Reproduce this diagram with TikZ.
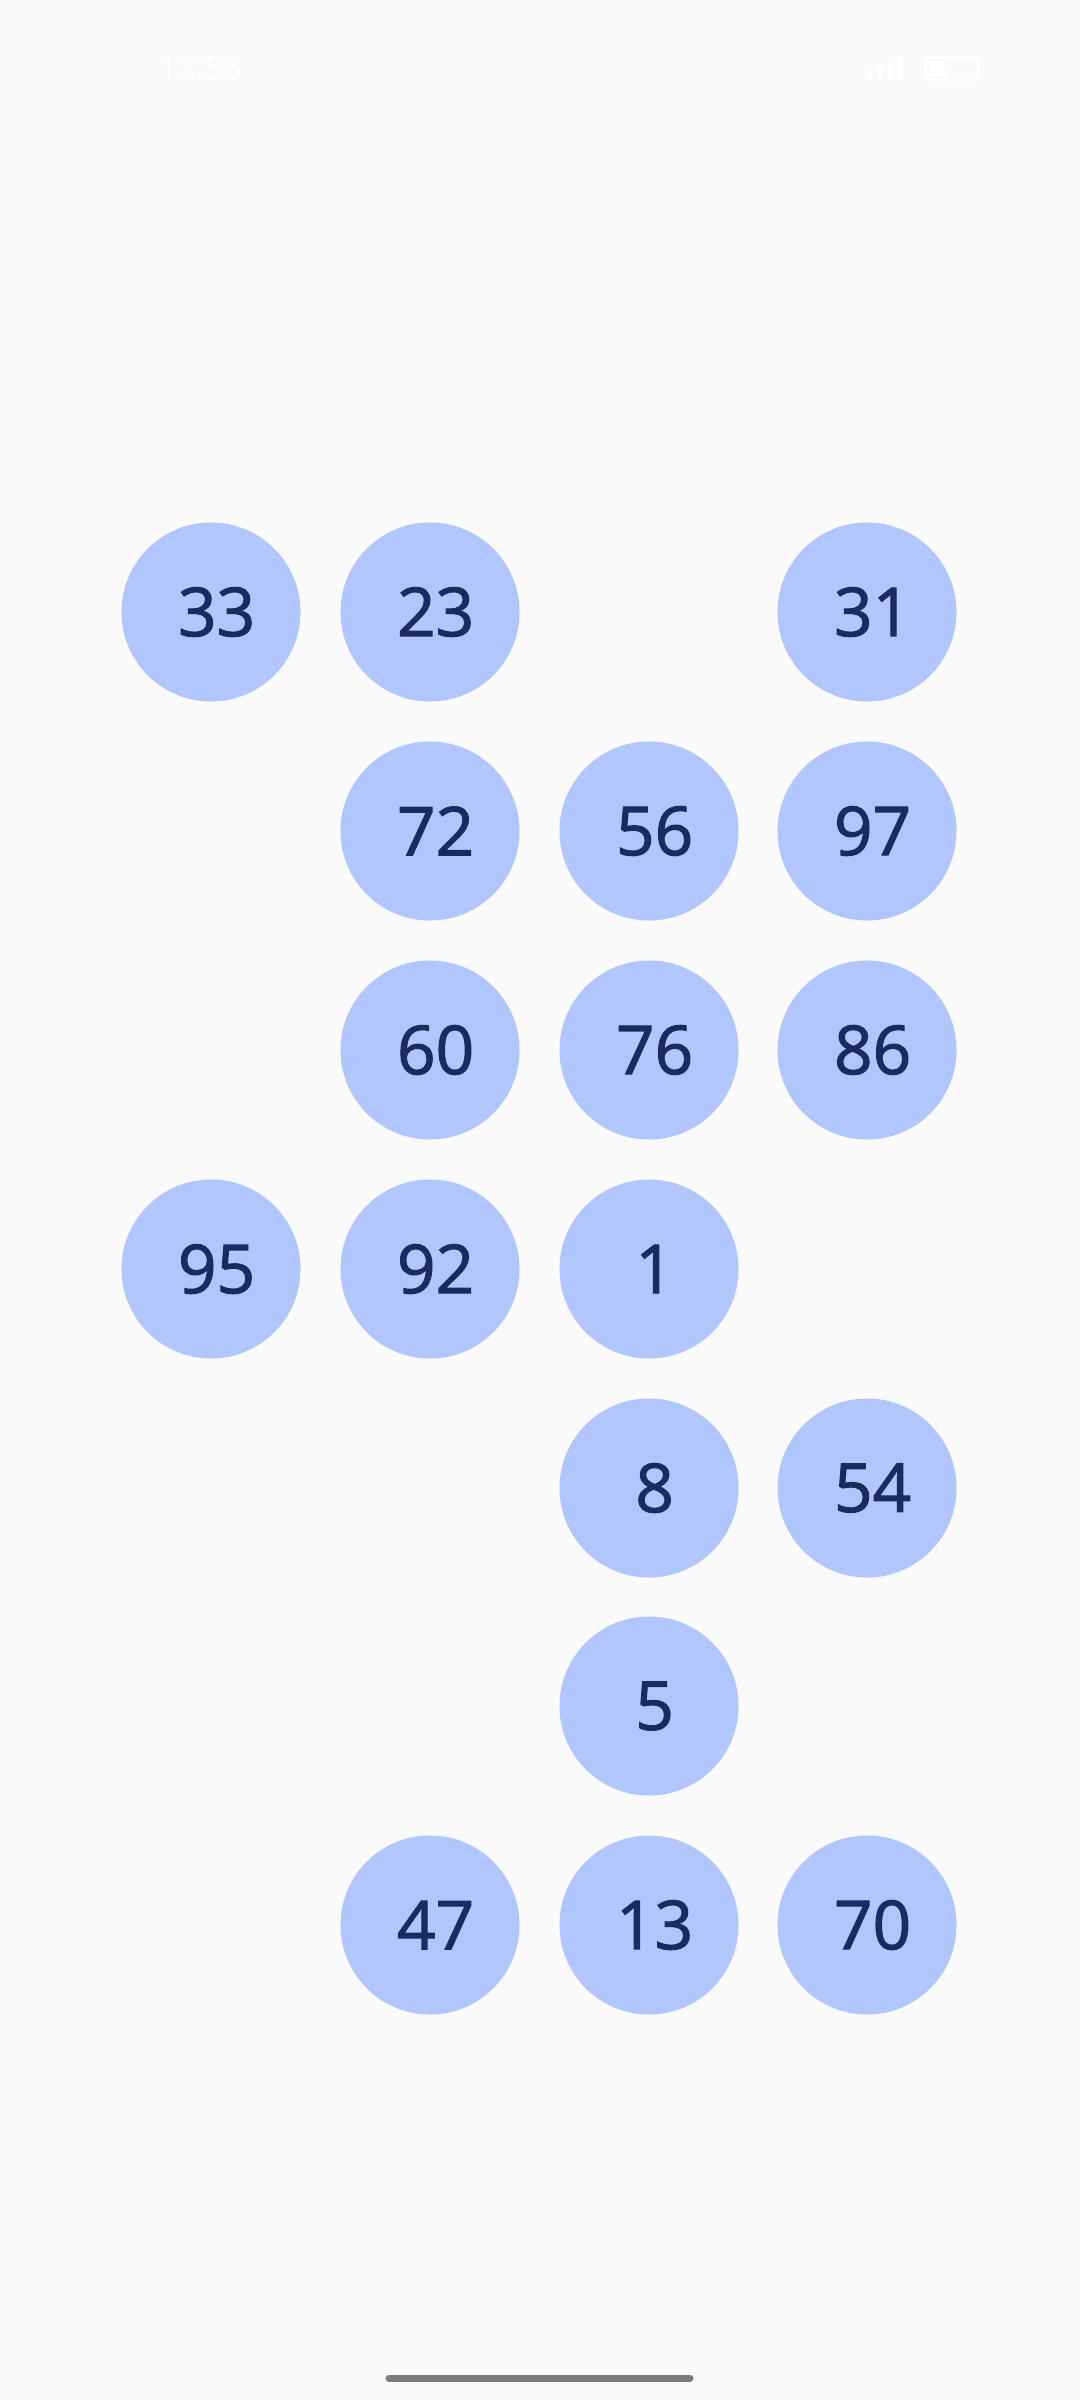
\documentclass[tikz,border=0pt]{standalone}
\usepackage{fontspec}
\setmainfont{Open Sans}
\newfontfamily\numfont{Open Sans}[FakeBold=1.6]
\usetikzlibrary{positioning}
\definecolor{bubble}{HTML}{B0C6FD}
\definecolor{numtext}{HTML}{1A2C5F}
\definecolor{screen}{HTML}{FAFAFA}
\definecolor{homebar}{HTML}{7B7B7B}
\tikzset{num/.style={circle, fill=bubble, minimum size=4.475cm, inner sep=0pt, text=numtext, font=\numfont\fontsize{48}{48}\selectfont, execute at begin node=\hspace*{0.28cm}}}
\tikzset{status/.style={text=white, font=\fontsize{23}{23}\selectfont}}

\begin{document}
\begin{tikzpicture}[x=0.025cm,y=-0.025cm]
\fill[screen] (0,0) rectangle (1080,2400);
\useasboundingbox (0,0) rectangle (1080,2400);
% status bar
\node[status] (clock) at (200,68) {13:56};
\draw[white, line width=0.05cm, rounded corners=0.1cm] (926,57) rectangle (978,80);
\fill[white] (930,61) rectangle (945,76);
\fill[white] (868,70) rectangle (872,80);
\fill[white] (878,66) rectangle (882,80);
\fill[white] (888,62) rectangle (892,80);
\fill[white] (898,56) rectangle (902,80);
% row 1
\node[num] (n33) at (211,612) {33};
\node[num] (n23) at (430,612) {23};
\node[num] (n31) at (867,612) {31};
% row 2
\node[num] (n72) at (430,831) {72};
\node[num] (n56) at (649,831) {56};
\node[num] (n97) at (867,831) {97};
% row 3
\node[num] (n60) at (430,1050) {60};
\node[num] (n76) at (649,1050) {76};
\node[num] (n86) at (867,1050) {86};
% row 4
\node[num] (n95) at (211,1269) {95};
\node[num] (n92) at (430,1269) {92};
\node[num] (n1) at (649,1269) {1};
% row 5
\node[num] (n8) at (649,1488) {8};
\node[num] (n54) at (867,1488) {54};
% row 6
\node[num] (n5) at (649,1706) {5};
% row 7
\node[num] (n47) at (430,1925) {47};
\node[num] (n13) at (649,1925) {13};
\node[num] (n70) at (867,1925) {70};
% home bar
\coordinate (hbl) at (389,2378);
\coordinate (hbr) at (690,2378);
\draw[homebar, line width=0.175cm, line cap=round] (hbl) -- (hbr);
\end{tikzpicture}
\end{document}
